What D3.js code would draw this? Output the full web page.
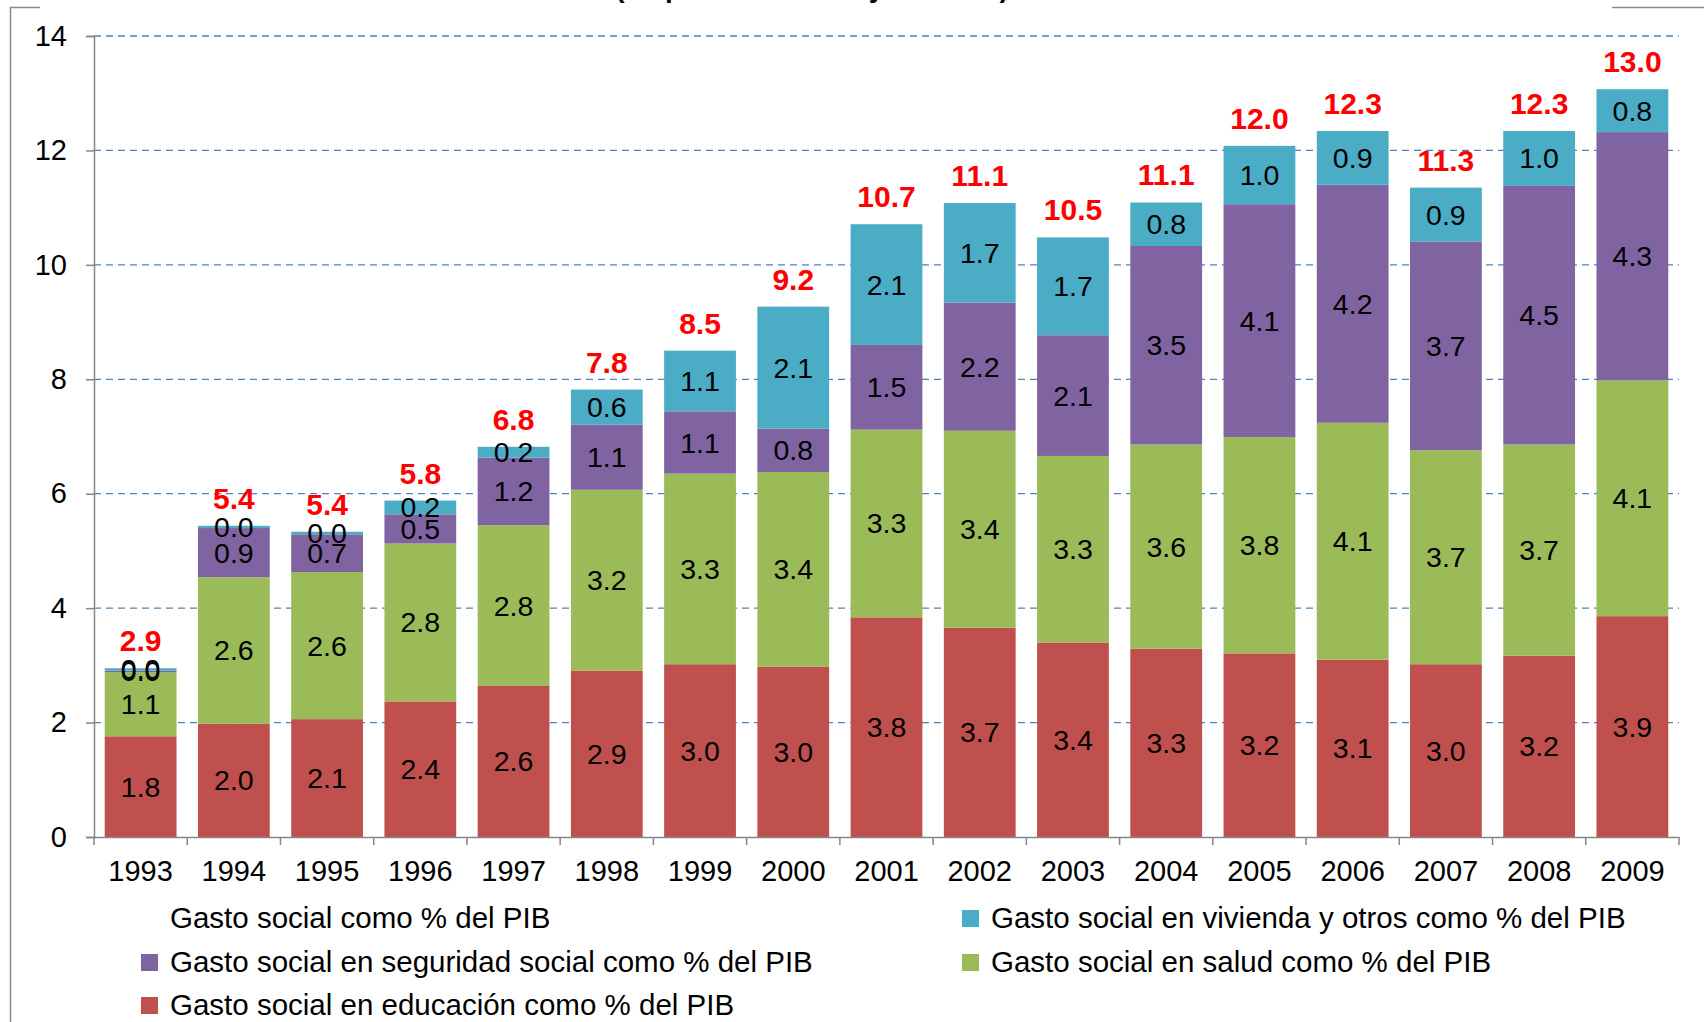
<!DOCTYPE html>
<html>
<head>
<meta charset="utf-8">
<script src="https://cdn.jsdelivr.net/npm/d3@7"></script>
<style>
	body { margin: 0; background: #fff; }
	svg { display: block; font-family: Arial, 'Liberation Sans', sans-serif; }
</style>
</head>
<body>
<svg></svg>
<script>
const years = ['1993','1994','1995','1996','1997','1998','1999','2000','2001','2002','2003','2004','2005','2006','2007','2008','2009'];
// values (labels show them rounded to one decimal)
const educacion = [1.76, 1.98, 2.06, 2.37, 2.64, 2.91, 3.02, 2.98, 3.84, 3.66, 3.40, 3.29, 3.21, 3.10, 3.02, 3.17, 3.86];
const salud = [1.12, 2.56, 2.57, 2.76, 2.81, 3.16, 3.33, 3.40, 3.28, 3.44, 3.26, 3.57, 3.78, 4.14, 3.74, 3.69, 4.12];
const seguridad = [0.03, 0.86, 0.66, 0.51, 1.18, 1.14, 1.09, 0.76, 1.48, 2.24, 2.11, 3.47, 4.07, 4.16, 3.65, 4.52, 4.34];
const vivienda = [0.04, 0.04, 0.045, 0.24, 0.19, 0.61, 1.06, 2.13, 2.11, 1.74, 1.71, 0.76, 1.02, 0.94, 0.94, 0.96, 0.75];
const total = [2.9, 5.4, 5.4, 5.8, 6.8, 7.8, 8.5, 9.2, 10.7, 11.1, 10.5, 11.1, 12.0, 12.3, 11.3, 12.3, 13.0];
const yTicks = [0, 2, 4, 6, 8, 10, 12, 14];

const series = [
	{key: 'edu', name: 'Gasto social en educación como % del PIB', values: educacion, color: '#C0504D'},
	{key: 'sal', name: 'Gasto social en salud como % del PIB', values: salud, color: '#9BBB59'},
	{key: 'seg', name: 'Gasto social en seguridad social como % del PIB', values: seguridad, color: '#8064A2'},
	{key: 'viv', name: 'Gasto social en vivienda y otros como % del PIB', values: vivienda, color: '#4BACC6'}
];

const width = 1704, height = 1022;
const plotLeft = 94, plotRight = 1679, plotTop = 36, plotBottom = 837;
const font = 'Arial, Liberation Sans, sans-serif';
const svg = d3.select('svg').attr('width', width).attr('height', height);

// outer frame, broken by the (cut off) title
svg.append('path')
	.attr('d', `M40,7.5 H10.5 V${height} M1612,7.5 H${width}`)
	.attr('fill', 'none').attr('stroke', '#8c8c8c').attr('stroke-width', 1.5);

svg.append('text')
	.attr('x', 812).attr('y', -3)
	.attr('text-anchor', 'middle')
	.attr('font-size', 28).attr('font-weight', 'bold')
	.text('(en puntos del PIB y del total)');

const x = d3.scaleBand().domain(years).range([plotLeft, plotRight]).paddingInner(0.23).paddingOuter(0.115);
const y = d3.scaleLinear().domain([0, 14]).range([plotBottom, plotTop]);

// gridlines
svg.append('g').selectAll('line')
	.data(yTicks.filter(d => d > 0))
	.enter().append('line')
		.attr('x1', plotLeft).attr('x2', plotRight)
		.attr('y1', d => y(d)).attr('y2', d => y(d))
		.attr('stroke', '#4F81BD').attr('stroke-width', 1.3)
		.attr('stroke-dasharray', '7,5');

// stacked bars
const rows = years.map((yr, i) => {
	let r = {year: yr};
	series.forEach(s => r[s.key] = s.values[i]);
	return r;
});
const stack = d3.stack().keys(series.map(s => s.key))(rows);

const layers = svg.append('g').selectAll('g')
	.data(stack)
	.enter().append('g')
		.attr('fill', (d, i) => series[i].color);

layers.selectAll('rect')
	.data(d => d)
	.enter().append('rect')
		.attr('x', d => x(d.data.year))
		.attr('width', x.bandwidth())
		.attr('y', d => y(d[1]))
		.attr('height', d => y(d[0]) - y(d[1]));

layers.selectAll('text')
	.data(d => d)
	.enter().append('text')
		.attr('x', d => x(d.data.year) + x.bandwidth() / 2)
		.attr('y', d => (y(d[0]) + y(d[1])) / 2 + 10)
		.attr('text-anchor', 'middle')
		.attr('font-size', 28.5)
		.attr('fill', '#000')
		.text(d => (d[1] - d[0]).toFixed(1));

// totals
svg.append('g').selectAll('text')
	.data(total)
	.enter().append('text')
		.attr('x', (d, i) => x(years[i]) + x.bandwidth() / 2)
		.attr('y', (d, i) => y(d3.sum(series, s => s.values[i])) - 17)
		.attr('text-anchor', 'middle')
		.attr('font-size', 30).attr('font-weight', 'bold')
		.attr('fill', '#FF0000')
		.text(d => d.toFixed(1));

// axes
const yAxis = svg.append('g')
	.attr('transform', `translate(${plotLeft},0)`)
	.call(d3.axisLeft(y).tickValues(yTicks).tickSize(8).tickPadding(19));
yAxis.select('.domain').attr('stroke', '#868686').attr('stroke-width', 1.5);
yAxis.selectAll('line').attr('stroke', '#868686').attr('stroke-width', 1.5);
yAxis.selectAll('text').attr('font-size', 29).attr('font-family', font).attr('fill', '#000');

const xAxis = svg.append('g')
	.attr('transform', `translate(0,${plotBottom})`)
	.call(d3.axisBottom(x).tickSize(0).tickPadding(23));
xAxis.select('.domain').attr('stroke', '#868686').attr('stroke-width', 1.5);
xAxis.selectAll('text').attr('font-size', 29).attr('font-family', font).attr('fill', '#000');

// category separators on x axis
svg.append('g').selectAll('line')
	.data(d3.range(years.length + 1))
	.enter().append('line')
		.attr('x1', i => plotLeft + i * x.step()).attr('x2', i => plotLeft + i * x.step())
		.attr('y1', plotBottom).attr('y2', plotBottom + 8)
		.attr('stroke', '#868686').attr('stroke-width', 1.5);

// legend
const legendItems = [
	{name: 'Gasto social como % del PIB', color: null, x: 141, y: 918},
	{name: series[3].name, color: series[3].color, x: 962, y: 918},
	{name: series[2].name, color: series[2].color, x: 141, y: 962},
	{name: series[1].name, color: series[1].color, x: 962, y: 962},
	{name: series[0].name, color: series[0].color, x: 141, y: 1005}
];
const legend = svg.append('g').selectAll('g')
	.data(legendItems)
	.enter().append('g')
		.attr('transform', d => `translate(${d.x},${d.y})`);
legend.filter(d => d.color).append('rect')
	.attr('x', 0).attr('y', -8).attr('width', 17).attr('height', 17)
	.attr('fill', d => d.color);
legend.append('text')
	.attr('x', 29).attr('y', 10)
	.attr('font-size', 29.5)
	.text(d => d.name);
</script>
</body>
</html>
